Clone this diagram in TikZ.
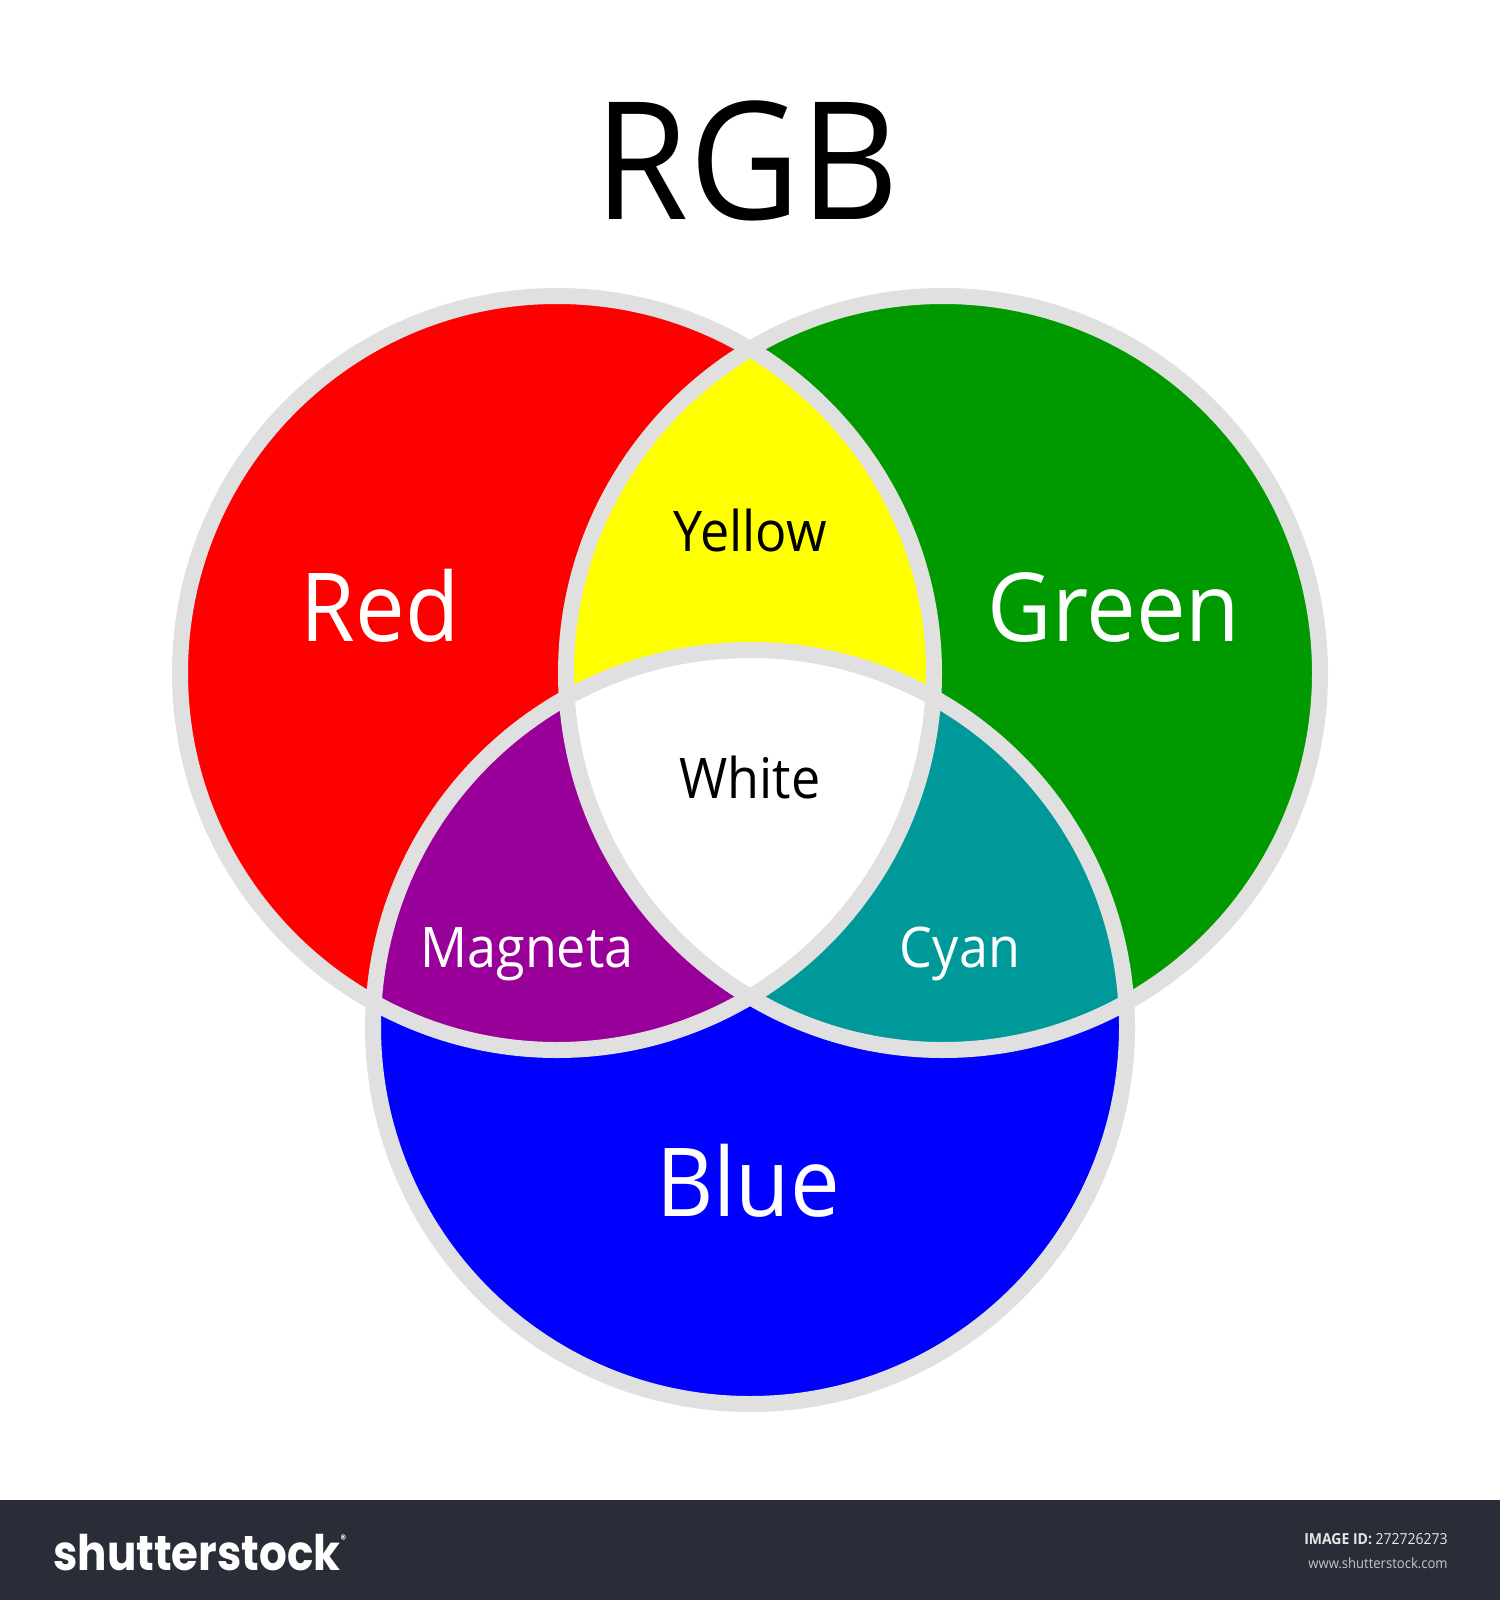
\documentclass[tikz,border=0pt]{standalone}
\usepackage{fontspec}
\setmainfont{Open Sans}[FakeStretch=0.93]
\newfontfamily\logofont{Poppins}[FakeStretch=0.89]
\newfontfamily\smallfont{Open Sans}[FakeStretch=0.92]
\definecolor{ringgray}{HTML}{E0E0E0}
\definecolor{cRed}{HTML}{FF0000}
\definecolor{cGreen}{HTML}{009900}
\definecolor{cBlue}{HTML}{0000FF}
\definecolor{cYellow}{HTML}{FFFF00}
\definecolor{cMag}{HTML}{990099}
\definecolor{cCyan}{HTML}{009999}
\definecolor{barcol}{HTML}{292D37}
\definecolor{idgray}{HTML}{E6E6E6}
\definecolor{urlgray}{HTML}{C4C6CA}
\begin{document}
\begin{tikzpicture}[x=0.5pt,y=-0.5pt,
  ring/.style={draw=ringgray,line width=8pt},
  lbl/.style={anchor=base,inner sep=0pt},
  big/.style={lbl,font=\fontsize{47.6}{50}\selectfont},
  mid/.style={lbl,font=\fontsize{28}{30}\selectfont}]
\useasboundingbox (0,0) rectangle (1500,1600);
\fill[white] (0,0) rectangle (1500,1600);
\coordinate (R) at (557,673);
\coordinate (G) at (943,673);
\coordinate (B) at (750,1027);
\def\rr{377}
% base circles
\fill[cRed] (R) circle[radius=\rr];
\fill[cGreen] (G) circle[radius=\rr];
\fill[cBlue] (B) circle[radius=\rr];
% pairwise overlaps
\begin{scope}\clip (R) circle[radius=\rr]; \fill[cYellow] (G) circle[radius=\rr];\end{scope}
\begin{scope}\clip (R) circle[radius=\rr]; \fill[cMag] (B) circle[radius=\rr];\end{scope}
\begin{scope}\clip (G) circle[radius=\rr]; \fill[cCyan] (B) circle[radius=\rr];\end{scope}
\begin{scope}\clip (R) circle[radius=\rr]; \clip (G) circle[radius=\rr]; \fill[white] (B) circle[radius=\rr];\end{scope}
% rings
\draw[ring] (R) circle[radius=\rr];
\draw[ring] (G) circle[radius=\rr];
\draw[ring] (B) circle[radius=\rr];
% labels
\node[lbl,font=\fontsize{82}{86}\selectfont] (title) at (747,219) {RGB};
\node[big,text=white] (red) at (380,641) {Red};
\node[big,text=white] (green) at (1114,641) {Green};
\node[big,text=white] (blue) at (748,1216) {Blue};
\node[mid] (yellow) at (750,551) {Yellow};
\node[mid] (white) at (750,798) {White};
\node[mid,text=white] (magenta) at (527,967) {Magneta};
\node[mid,text=white] (cyan) at (960,967) {Cyan};
% footer
\fill[barcol] (0,1500) rectangle (1500,1600);
\node[lbl,anchor=base west,text=white,font=\logofont\bfseries\fontsize{24.5}{26}\selectfont] (logo) at (53,1570) {shutterstock\raisebox{0.55em}{\fontsize{6}{6}\selectfont ®}};
\node[lbl,anchor=base east,text=idgray,font=\smallfont\fontsize{7.6}{9}\selectfont] (imgid) at (1448,1544) {\textbf{IMAGE ID:} 272726273};
\node[lbl,anchor=base east,text=urlgray,font=\smallfont\fontsize{7.1}{9}\selectfont] (url) at (1448,1568) {www.shutterstock.com};
\end{tikzpicture}
\end{document}
